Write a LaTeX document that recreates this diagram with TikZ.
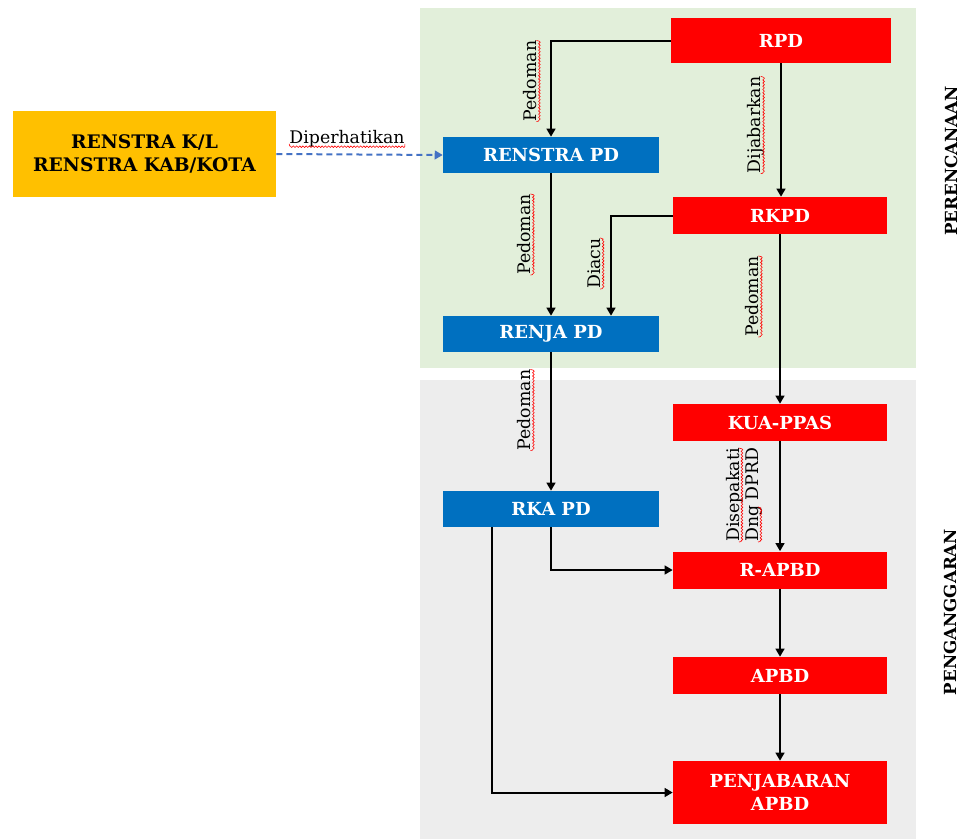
\documentclass[tikz,border=0pt]{standalone}
\usepackage{fontspec}
\setmainfont{DejaVu Serif}
\usetikzlibrary{arrows.meta,calc,decorations.pathmorphing}

\definecolor{planbg}{HTML}{E2EFDA}
\definecolor{budgetbg}{HTML}{EDEDED}
\definecolor{redbox}{HTML}{FF0000}
\definecolor{bluebox}{HTML}{0070C0}
\definecolor{goldbox}{HTML}{FFC000}
\definecolor{dashblue}{HTML}{4472C4}

\tikzset{
  box/.style={fill=#1, draw=none, inner sep=0pt, text=white,
    font=\fontsize{13.5}{17}\selectfont\bfseries, align=center},
  redstep/.style={box=redbox, minimum width=160.5pt, minimum height=27.75pt},
  bluestep/.style={box=bluebox, minimum width=162pt, minimum height=27pt},
  flow/.style={draw=black, line width=1.5pt, -{Triangle[length=6pt,width=6.5pt]}},
  hlabel/.style={inner sep=0pt, font=\fontsize{13}{15}\selectfont},
  vlabel/.style={hlabel, rotate=90},
  phase/.style={rotate=90, inner sep=0pt, font=\fontsize{12.5}{15}\selectfont\bfseries},
  spellwave/.style={draw=red, line width=0.45pt, decorate,
    decoration={snake, amplitude=0.6pt, segment length=2.4pt, raise=-2.2pt}},
}

\begin{document}
\begin{tikzpicture}[x=0.75pt, y=-0.75pt]
  \useasboundingbox (0,0) rectangle (960,839);

  % phase panels
  \fill[planbg] (420,8) rectangle (916,368);
  \fill[budgetbg] (420,380) rectangle (916,839);

  % nodes
  \node[redstep, minimum width=165pt, minimum height=33.75pt] (rpd) at (781,40.5) {RPD};
  \node[bluestep] (renstrapd) at (551,155) {RENSTRA PD};
  \node[redstep] (rkpd) at (780,215.5) {RKPD};
  \node[bluestep] (renjapd) at (551,334) {RENJA PD};
  \node[redstep] (kuappas) at (780,422.5) {KUA-PPAS};
  \node[bluestep] (rkapd) at (551,509) {RKA PD};
  \node[redstep] (rapbd) at (780,570) {R-APBD};
  \node[redstep] (apbd) at (780,675.5) {APBD};
  \node[redstep, minimum height=47.25pt] (penjabaran) at (780,792.5) {PENJABARAN\\APBD};
  \node[box=goldbox, text=black, minimum width=197.25pt, minimum height=64.5pt,
    font=\fontsize{14}{17.5}\selectfont\bfseries]
    (renstrakl) at (144.5,154) {RENSTRA K/L\\RENSTRA KAB/KOTA};

  % connectors
  \draw[flow] (rpd.west) -| (renstrapd.north);
  \draw[flow] (rpd.south) -- (rpd.south |- rkpd.north);
  \draw[flow] (rkpd.west) -| ([xshift=45pt]renjapd.north);
  \draw[flow] (renstrapd.south) -- (renjapd.north);
  \draw[flow] (rkpd.south) -- (kuappas.north);
  \draw[flow] (renjapd.south) -- (rkapd.north);
  \draw[flow] (kuappas.south) -- (rapbd.north);
  \draw[flow] (rkapd.south) |- (rapbd.west);
  \draw[flow] ([xshift=-44.25pt]rkapd.south) |- (penjabaran.west);
  \draw[flow] (rapbd.south) -- (apbd.north);
  \draw[flow] (apbd.south) -- (penjabaran.north);
  \draw[dashblue, line width=1.5pt, dash pattern=on 4.5pt off 3pt,
    -{Triangle[length=6pt,width=6.5pt]}] (renstrakl.east) -- (renstrapd.west);

  % connector labels
  \node[hlabel] (lblperhatikan) at (347,139) {Diperhatikan};
  \node[vlabel] (lblpedoman1) at (530,81) {Pedoman};
  \node[vlabel] (lbljabarkan) at (756,125) {Dijabarkan};
  \node[vlabel] (lblpedoman2) at (524,234.5) {Pedoman};
  \node[vlabel] (lbldiacu) at (594,263.5) {Diacu};
  \node[vlabel] (lblpedoman3) at (752,296.5) {Pedoman};
  \node[vlabel] (lblpedoman4) at (524,410) {Pedoman};
  \node[vlabel, anchor=base west] (lblsepakat) at (739,542) {Disepakati};
  \node[vlabel, anchor=base west] (lbldprd) at (758,542) {Dng DPRD};

  % spelling marks under the label words
  \foreach \w in {lblperhatikan,lblpedoman1,lbljabarkan,lblpedoman2,lbldiacu,
                  lblpedoman3,lblpedoman4,lblsepakat}
    \path[spellwave] (\w.base west) -- (\w.base east);
  \path[spellwave] (lbldprd.base west) -- ($(lbldprd.base west)!0.37!(lbldprd.base east)$);

  % phase titles
  \node[phase] (perencanaan) at (951,161) {PERENCANAAN};
  \node[phase] (penganggaran) at (950,612) {PENGANGGARAN};
\end{tikzpicture}
\end{document}
